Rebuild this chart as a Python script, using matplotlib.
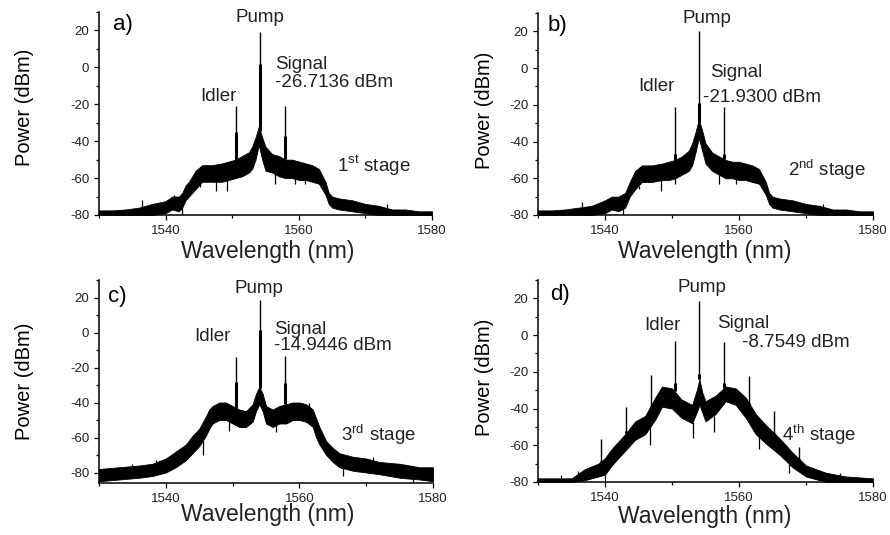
import numpy as np
import matplotlib.pyplot as plt
from matplotlib.ticker import MultipleLocator

"""
FWM cascade spectra after each stage (a-d).
Noise floor drawn as a band (upper / lower edge read off the trace),
discrete tones drawn as vertical lines.
"""

plt.rcParams['font.family'] = ['Liberation Sans', 'DejaVu Sans']
plt.rcParams['mathtext.fontset'] = 'custom'
plt.rcParams['mathtext.rm'] = 'Liberation Sans'
plt.rcParams['axes.unicode_minus'] = False

# --- Stage 1 ---
wl_a = [1530, 1532, 1534, 1536, 1538, 1540, 1541, 1542, 1542.5, 1543, 1543.5, 1544.5, 1545.5, 1547,
        1548.5, 1549.5, 1550.5, 1551.5, 1552.5, 1553, 1553.5, 1554, 1554.5, 1555, 1556, 1557, 1558,
        1559, 1560, 1561, 1562, 1563, 1564, 1564.5, 1565, 1566, 1568, 1570, 1572, 1574, 1576, 1578,
        1580]
hi_a = [-77.5, -77.5, -77, -76, -74, -72.5, -70, -70, -68, -64, -62, -56, -53, -53,
        -52, -51, -50, -48, -46, -43, -38, -32, -38, -43, -47, -48, -50,
        -50, -51, -52, -53, -55, -62, -68, -70, -71, -72, -74, -75, -77, -77, -78,
        -78]
lo_a = [-80, -80, -80, -80, -80, -79, -77, -78, -76, -72, -70, -66, -62, -62,
        -62, -61, -60, -59, -57, -55, -50, -42, -50, -56, -57, -59, -60,
        -60, -61, -61, -62, -63, -69, -74, -76, -77, -78, -79, -80, -80, -80, -80,
        -80]
tone_wl_a = [1550.5, 1554.2, 1557.9]
tone_top_a = [-21, 19, -21]
tone_mid_a = [-35, 2, -37]
dip_wl_a = [1542.5, 1545.2, 1547.6, 1549.2, 1556.5, 1559.4, 1561.0]
dip_lo_a = [-80, -65, -67, -67, -63, -63, -63]
spk_wl_a = [1536.5, 1541.2, 1573.3]
spk_hi_a = [-72, -69, -74]

# --- Stage 2 ---
wl_b = [1530, 1532, 1534, 1536, 1538, 1540, 1541, 1542, 1543, 1543.7, 1544.5, 1545.5, 1547,
        1548.5, 1549.5, 1550.5, 1551.5, 1552.5, 1553, 1553.5, 1554, 1554.5, 1555, 1556, 1557, 1558,
        1559, 1560, 1561, 1562, 1563, 1564, 1564.5, 1565, 1566, 1568, 1570, 1572, 1574, 1576,
        1578, 1580]
hi_b = [-77.5, -77.5, -77, -76, -75, -72, -70, -70, -68, -62, -56, -53, -53,
        -52, -51, -50, -48, -45, -41, -35, -28, -34, -41, -46, -48, -50,
        -51, -51, -52, -53, -55, -62, -68, -70, -71, -72, -74, -75, -77, -77,
        -78, -78]
lo_b = [-80, -80, -80, -80, -80, -79, -77, -78, -76, -70, -66, -62, -62,
        -61, -61, -60, -58, -56, -53, -46, -38, -45, -52, -56, -58, -60,
        -60, -61, -61, -62, -63, -69, -74, -76, -77, -78, -79, -80, -80, -80,
        -80, -80]
tone_wl_b = [1550.4, 1554.1, 1557.8]
tone_top_b = [-21, 20, -21]
tone_mid_b = [-47, -19, -47]
dip_wl_b = [1542.7, 1545.0, 1548.3, 1550.4, 1557.0, 1559.5]
dip_lo_b = [-80, -66, -67, -63, -63, -63]
spk_wl_b = [1536.5, 1541.0, 1572.5]
spk_hi_b = [-73, -70, -74]

# --- Stage 3 ---
wl_c = [1530, 1533, 1536, 1538, 1540, 1541.5, 1543, 1544, 1545, 1546, 1546.5, 1547, 1548,
        1549, 1550, 1551, 1552, 1553, 1553.5, 1554, 1554.5, 1555, 1556, 1557, 1558, 1559,
        1560, 1561, 1562, 1562.5, 1563, 1564, 1565, 1566, 1568, 1570, 1572, 1575, 1578, 1580]
hi_c = [-78, -77, -76, -75, -72, -68, -64, -59, -55, -48, -44, -42, -40,
        -40, -42, -44, -45, -41, -35, -31, -35, -42, -44, -42, -41, -40,
        -40, -41, -44, -49, -54, -62, -66, -69, -71, -72, -74, -75, -77, -77]
lo_c = [-85, -84, -83, -82, -80, -77, -73, -69, -65, -59, -55, -52, -50,
        -50, -52, -54, -54, -51, -45, -41, -45, -52, -54, -52, -52, -50,
        -50, -51, -54, -60, -64, -70, -74, -77, -79, -80, -81, -83, -84, -85]
tone_wl_c = [1550.5, 1554.1, 1557.9, 1561.5]
tone_top_c = [-14, 18.5, -13.7, -40]
tone_mid_c = [-28, 1.5, -29, -45]
dip_wl_c = [1545.5, 1549.5, 1556.5, 1566.5, 1577.0]
dip_lo_c = [-70, -56, -57, -82, -86]
spk_wl_c = [1535.0, 1538.5, 1571.0]
spk_hi_c = [-75, -73, -71]

# --- Stage 4 ---
wl_d = [1530, 1532, 1535, 1537, 1539, 1540, 1541, 1543, 1544.5, 1546, 1547.5, 1548.5, 1550,
        1551.4, 1553, 1553.7, 1554.1, 1554.5, 1555, 1556.5, 1558, 1559.5, 1561, 1562.5, 1564,
        1566, 1568, 1570, 1573, 1576, 1580]
hi_d = [-78, -78, -78, -73, -70, -67, -62, -54, -47, -44, -34, -28, -29,
        -35, -38, -30, -24, -31, -36, -33, -28, -29, -34, -43, -49,
        -56, -64, -71, -75, -77, -78]
lo_d = [-80, -80, -80, -79, -77, -76, -71, -63, -57, -54, -46, -39, -40,
        -45, -48, -42, -38, -42, -47, -43, -36, -38, -45, -54, -59,
        -65, -72, -77, -80, -80, -80]
tone_wl_d = [1539.4, 1543.1, 1546.8, 1550.4, 1554.1, 1557.8, 1561.5, 1565.2, 1569.0]
tone_top_d = [-56.6, -39, -21.5, -3, 18.4, -3.5, -22.4, -41.3, -61]
tone_mid_d = [-70, -52, -40, -26, -21, -26, -38, -55, -70]
dip_wl_d = [1540.0, 1546.7, 1553.1, 1556.2, 1563.0, 1567.5]
dip_lo_d = [-80, -60, -56, -53, -62, -75]
spk_wl_d = [1533.5, 1536.0, 1575.0]
spk_hi_d = [-76, -74, -75]

panels = [
    (wl_a, hi_a, lo_a, tone_wl_a, tone_top_a, tone_mid_a, dip_wl_a, dip_lo_a, spk_wl_a, spk_hi_a),
    (wl_b, hi_b, lo_b, tone_wl_b, tone_top_b, tone_mid_b, dip_wl_b, dip_lo_b, spk_wl_b, spk_hi_b),
    (wl_c, hi_c, lo_c, tone_wl_c, tone_top_c, tone_mid_c, dip_wl_c, dip_lo_c, spk_wl_c, spk_hi_c),
    (wl_d, hi_d, lo_d, tone_wl_d, tone_top_d, tone_mid_d, dip_wl_d, dip_lo_d, spk_wl_d, spk_hi_d),
]
ylims = [(-80, 30), (-80, 30), (-86, 30), (-80, 30)]
letters = ['a)', 'b)', 'c)', 'd)']
signal_txt = ['-26.7136 dBm', '-21.9300 dBm', '-14.9446 dBm', '-8.7549 dBm']
stage_txt = [r'1$^{\mathrm{st}}$ stage', r'2$^{\mathrm{nd}}$ stage',
             r'3$^{\mathrm{rd}}$ stage', r'4$^{\mathrm{th}}$ stage']

# text anchors (wavelength, dBm) per panel
letter_pos = [(1532.1, 23.3), (1531.5, 23.3), (1531.3, 20.6), (1531.8, 22.3)]
pump_pos = [(1554.1, 26.9), (1555.2, 27.1), (1553.9, 25.3), (1554.4, 25.9)]
idler_pos = [(1548.0, -15.7), (1547.7, -9.9), (1547.0, -2.2), (1548.5, 5.2)]
sig_pos = [(1556.4, 1.5), (1555.7, -2.5), (1556.2, 1.6), (1556.8, 6.1)]
val_pos = [(1556.4, -8.0), (1554.7, -16.0), (1556.2, -7.2), (1560.4, -4.2)]
stage_pos = [(1565.8, -53.2), (1567.3, -55.2), (1566.3, -58.2), (1566.4, -54.3)]

W, H = 890, 535
boxes = [(99, 12, 432, 215), (538, 13, 873, 215), (99, 280, 433, 483), (538, 280, 873, 482)]

fig = plt.figure(figsize=(8.9, 5.35), dpi=100)

for i, (wl, hi, lo, twl, ttop, tmid, dwl, dlo, swl, shi) in enumerate(panels):
    x0, y0, x1, y1 = boxes[i]
    ax = fig.add_axes([x0 / W, 1 - y1 / H, (x1 - x0) / W, (y1 - y0) / H])

    ax.fill_between(wl, lo, hi, color='black', lw=0.6)
    # noise excursions below / above the band
    ax.vlines(dwl, dlo, np.interp(dwl, wl, lo), color='black', lw=0.9)
    ax.vlines(swl, np.interp(swl, wl, hi), shi, color='black', lw=0.9)
    # discrete tones: thick base, thin top
    base = np.interp(twl, wl, hi)
    ax.vlines(twl, base, tmid, color='black', lw=2.2)
    ax.vlines(twl, base, ttop, color='black', lw=1.0)

    ax.set_xlim(1530, 1580)
    ax.set_ylim(*ylims[i])
    ax.set_xticks([1540, 1560, 1580])
    ax.xaxis.set_minor_locator(MultipleLocator(10))
    ax.set_yticks([-80, -60, -40, -20, 0, 20])
    ax.yaxis.set_minor_locator(MultipleLocator(10))
    ax.tick_params(which='both', direction='out', labelsize=9.5, width=0.9,
                   colors='black', labelcolor='#222222')
    ax.tick_params(which='major', length=3.5)
    ax.tick_params(which='minor', length=2)
    ax.spines['top'].set_visible(False)
    ax.spines['right'].set_visible(False)
    for s in ('left', 'bottom'):
        ax.spines[s].set_linewidth(1.1)

    ax.text(*letter_pos[i], letters[i], fontsize=16, ha='left', va='center')
    ax.text(*pump_pos[i], 'Pump', fontsize=13.5, ha='center', va='center', color='#222222')
    ax.text(*idler_pos[i], 'Idler', fontsize=13.5, ha='center', va='center', color='#222222')
    ax.text(*sig_pos[i], 'Signal', fontsize=13.5, ha='left', va='center', color='#222222')
    ax.text(*val_pos[i], signal_txt[i], fontsize=13.5, ha='left', va='center', color='#222222')
    ax.text(*stage_pos[i], stage_txt[i], fontsize=13.5, ha='left', va='center', color='#222222')

# axis titles placed in figure pixels
ylab_pos = [(25, 107), (485, 110), (25, 381), (485, 377)]
xlab_pos = [(268, 251), (705, 251), (268, 515), (705, 516)]
for (px, py) in ylab_pos:
    fig.text(px / W, 1 - py / H, 'Power (dBm)', fontsize=14.5, rotation=90,
             ha='center', va='center')
for (px, py) in xlab_pos:
    fig.text(px / W, 1 - py / H, 'Wavelength (nm)', fontsize=16.5,
             ha='center', va='center', color='#222222')

fig.savefig('out.png', dpi=100)
